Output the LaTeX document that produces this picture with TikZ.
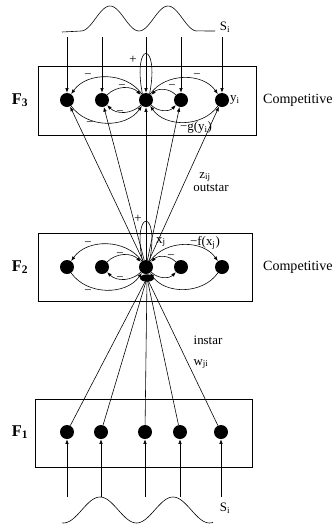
\documentclass[tikz,border=0pt]{standalone}
\usepackage{fontspec}
\setmainfont{Liberation Serif}
\usetikzlibrary{arrows.meta, shapes.geometric}

\begin{document}
\begin{tikzpicture}[
    x=0.03cm, y=-0.03cm,
    font=\fontsize{11}{13}\selectfont,
    neuron/.style={circle, fill=black, inner sep=0pt, minimum size=0.42cm},
    layer/.style={rectangle, draw=black, line width=0.6pt, minimum height=2.05cm},
    blob/.style={ellipse, fill=black, inner sep=0pt, minimum width=0.42cm, minimum height=0.22cm},
    wire/.style={line width=0.5pt},
    arr/.style={-{Latex[length=4pt, width=3pt]}, line width=0.5pt},
    sign/.style={inner sep=1pt},
    tag/.style={font=\fontsize{14}{16}\selectfont\bfseries}
]

\useasboundingbox (0,0) rectangle (333,526);

\def\xa{67}
\def\xb{102}
\def\xc{146}
\def\xd{181}
\def\xe{222}

% Layers
\node[layer, minimum width=6.54cm] (L3) at (147,101) {};
\node[layer, minimum width=6.42cm] (L2) at (145,267.5) {};
\node[layer, minimum width=6.51cm] (L1) at (143.5,433.5) {};

\node[tag] (t3) at (20,100) {F\textsubscript{3}};
\node[tag] (t2) at (20,267) {F\textsubscript{2}};
\node[tag] (t1) at (20,432) {F\textsubscript{1}};

\node[anchor=west, font=\fontsize{12}{14}\selectfont] (c3) at (259,100) {Competitive};
\node[anchor=west, font=\fontsize{12}{14}\selectfont] (c2) at (259,267) {Competitive};

% Neurons
\node[neuron] (a1) at (\xa,100) {};
\node[neuron] (a2) at (\xb,100) {};
\node[neuron] (a3) at (\xc,100) {};
\node[neuron] (a4) at (\xd,100) {};
\node[neuron] (a5) at (\xe,100) {};

\node[neuron] (b1) at (\xa,267) {};
\node[neuron] (b2) at (\xb,267) {};
\node[neuron] (b3) at (\xc,267) {};
\node[neuron] (b4) at (\xd,267) {};
\node[neuron] (b5) at (\xe,267) {};

\node[neuron] (c1) at (67,432) {};
\node[neuron] (c2) at (101,432) {};
\node[neuron] (c3) at (145,432) {};
\node[neuron] (c4) at (180,432) {};
\node[neuron] (c5) at (221,432) {};

% Input waves
\draw[wire] (62,32) -- (72,31.5) -- plot[domain=81:198, samples=70] (\x, {18.5 - 12.5*cos((\x-110)*6.2069)}) -- (215,31);
\draw[wire] plot[domain=62:213, samples=80] (\x, {510 - 13*cos((\x-100)*4.9315)});
\node (s3) at (225,27) {S\textsubscript{i}};
\node (s1) at (225,508) {S\textsubscript{i}};

% Inputs to F3
\coordinate (p1) at (\xa,37);
\coordinate (p2) at (\xb,37);
\coordinate (p3) at (\xc,37);
\coordinate (p4) at (\xd,37);
\coordinate (p5) at (\xe,37);
\draw[arr] (p1) -- (a1);
\draw[arr] (p2) -- (a2);
\draw[arr] (p3) -- (a3);
\draw[arr] (p4) -- (a4);
\draw[arr] (p5) -- (a5);

% Inputs to F1
\coordinate (q1) at (67,497);
\coordinate (q2) at (101,497);
\coordinate (q3) at (145,497);
\coordinate (q4) at (180,497);
\coordinate (q5) at (221,497);
\draw[arr] (q1) -- (c1);
\draw[arr] (q2) -- (c2);
\draw[arr] (q3) -- (c3);
\draw[arr] (q4) -- (c4);
\draw[arr] (q5) -- (c5);

% Self excitation
\draw[wire] (a3.120) .. controls (132,40) and (160,40) .. (a3.60);
\draw[wire] (b3.120) .. controls (132,208) and (160,208) .. (b3.60);
\node[sign] (pa) at (133,60) {+};
\node[sign] (pb) at (138,219) {+};

% Competition in F3
\draw[arr] (a3) to[bend right=55] (a1);
\draw[arr] (a1) to[bend right=55] (a3);
\draw[arr] (a3) to[bend left=55] (a5);
\draw[arr] (a5) to[bend left=55] (a3);
\draw[arr] (a2) to[bend left=45] (a3);
\draw[arr] (a3) to[bend left=45] (a2);
\draw[arr] (a4) to[bend right=45] (a3);
\draw[arr] (a3) to[bend right=45] (a4);

\node[sign] (m1) at (88,76) {−};
\node[sign] (m2) at (122,87) {−};
\node[sign] (m3) at (120,113) {−};
\node[sign] (m4) at (90,124) {−};
\node[sign] (m5) at (197,76) {−};
\node[sign] (m6) at (172,87) {−};
\node[sign] (gy) at (196,127) {−g(y\textsubscript{i})};
\node[sign] (yi) at (235,100) {y\textsubscript{i}};

% Competition in F2
\draw[arr] (b3) to[bend right=55] (b1);
\draw[arr] (b1) to[bend right=55] (b3);
\draw[arr] (b3) to[bend left=55] (b5);
\draw[arr] (b5) to[bend left=55] (b3);
\draw[arr] (b2) to[bend left=45] (b3);
\draw[arr] (b3) to[bend left=45] (b2);
\draw[arr] (b4) to[bend right=45] (b3);
\draw[arr] (b3) to[bend right=45] (b4);

\node[sign] (n1) at (88,244) {−};
\node[sign] (n2) at (120,255) {−};
\node[sign] (n3) at (120,279) {−};
\node[sign] (n4) at (88,292) {−};
\node[sign] (n6) at (171,257) {−};
\node[sign] (xj) at (161,242) {x\textsubscript{j}};
\node[sign] (fx) at (205,243) {−f(x\textsubscript{j})};

% Outstar F2 -> F3
\draw[arr] (b3) -- (a1);
\draw[arr] (b3) -- (a2);
\draw[arr] (b3) -- (a3);
\draw[arr] (b3) -- (a4);
\draw[arr] (b3) -- (a5);
\node (zij) at (205,177) {z\textsubscript{ij}};
\node (out) at (211,188) {outstar};

% Instar F1 -> F2
\node[blob] (hub) at (147,278) {};
\draw[wire] (c1) -- (hub.center);
\draw[wire] (c2) -- (hub.center);
\draw[wire] (c3) -- (hub.center);
\draw[wire] (c4) -- (hub.center);
\draw[wire] (c5) -- (hub.center);
\node (ins) at (208,340) {instar};
\node (wji) at (201,364) {w\textsubscript{ji}};

\end{tikzpicture}
\end{document}
